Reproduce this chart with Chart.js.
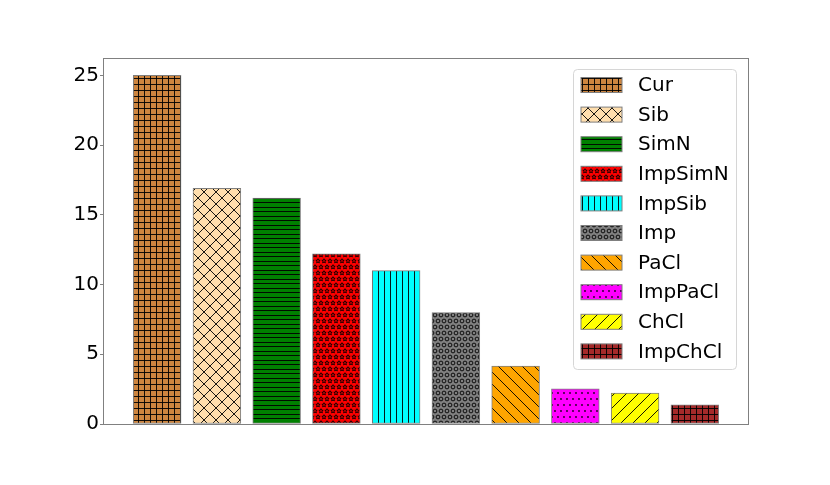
<!DOCTYPE html>
<html><head><meta charset="utf-8">
<script src="https://cdn.jsdelivr.net/npm/chart.js@4.4.0/dist/chart.umd.min.js"></script>
<style>html,body{margin:0;padding:0;background:#fff}canvas{display:block}</style>
</head><body>
<canvas id="c" width="830" height="485"></canvas>
<script>
// ---- data ----
const categories = ['Cur','Sib','SimN','ImpSimN','ImpSib','Imp','PaCl','ImpPaCl','ChCl','ImpChCl'];
const values = [25.0, 16.9, 16.2, 12.2, 11.0, 8.0, 4.15, 2.53, 2.22, 1.37];
const positions = [0, 1, 2, 3, 4, 5, 6, 7, 8, 9];
const yTicks = [0, 5, 10, 15, 20, 25];
const colors = ['#cd853f','#ffdead','#008000','#ff0000','#00ffff','#808080','#ffa500','#ff00ff','#ffff00','#a52a2a'];
const hatches = ['grid','x','hlines','stars','vlines','circles','back','dots','fwd','grid'];

// ---- hatch patterns ----
const mainCtx = document.getElementById('c').getContext('2d');
const HC = 'rgba(0,0,0,0.9)';
function mk(w, h, bg, draw) {
  const c = document.createElement('canvas');
  c.width = w; c.height = h;
  const g = c.getContext('2d');
  g.fillStyle = bg; g.fillRect(0, 0, w, h);
  g.strokeStyle = HC; g.fillStyle = HC; g.lineWidth = 1;
  draw(g, w, h);
  return mainCtx.createPattern(c, 'repeat');
}
function wrap(g, w, h, x, y, fn) {
  for (const dx of [-w, 0, w]) for (const dy of [-h, 0, h]) fn(g, x + dx, y + dy);
}
function star(g, x, y) {
  g.beginPath();
  for (let k = 0; k < 10; k++) {
    const r = k % 2 ? 1.0 : 2.3;
    const a = -Math.PI / 2 + k * Math.PI / 5;
    const px = x + r * Math.cos(a), py = y + r * Math.sin(a);
    k ? g.lineTo(px, py) : g.moveTo(px, py);
  }
  g.closePath(); g.stroke();
}
function ring(g, x, y) { g.beginPath(); g.arc(x, y, 1.9, 0, Math.PI * 2); g.stroke(); }
function dot(g, x, y) { g.beginPath(); g.arc(x, y, 0.9, 0, Math.PI * 2); g.fill(); }
function shapes(bg, P, fn) {
  return mk(P, 2 * P, bg, (g, w, h) => {
    wrap(g, w, h, P / 2, P / 2, fn);
    wrap(g, w, h, 0, 1.5 * P, fn);
  });
}
function makeHatch(kind, bg) {
  switch (kind) {
    case 'grid': return mk(6, 6, bg, g => { g.fillRect(0, 0, 6, 1); g.fillRect(0, 0, 1, 6); });
    case 'vlines': return mk(6, 6, bg, g => { g.fillRect(0, 0, 1, 6); });
    case 'hlines': return mk(9, 9, bg, g => { g.fillRect(0, 0, 9, 1); g.fillRect(0, 4, 9, 1); });
    case 'fwd': return mk(12, 12, bg, g => { for (let k = -1; k <= 1; k++) { g.beginPath(); g.moveTo(k*12 - 1, 13); g.lineTo(k*12 + 13, -1); g.stroke(); } });
    case 'back': return mk(12, 12, bg, g => { for (let k = -1; k <= 1; k++) { g.beginPath(); g.moveTo(k*12 - 1, -1); g.lineTo(k*12 + 13, 13); g.stroke(); } });
    case 'x': return mk(12, 12, bg, g => { for (let k = -1; k <= 1; k++) { g.beginPath(); g.moveTo(k*12 - 1, 13); g.lineTo(k*12 + 13, -1); g.moveTo(k*12 - 1, -1); g.lineTo(k*12 + 13, 13); g.stroke(); } });
    case 'stars': return shapes(bg, 6, star);
    case 'circles': return shapes(bg, 6, ring);
    case 'dots': return shapes(bg, 6, dot);
  }
}

const datasets = categories.map((name, i) => ({
  label: name,
  data: [{ x: positions[i], y: values[i] }],
  backgroundColor: makeHatch(hatches[i], colors[i]),
  borderColor: '#7f7f7f',
  borderWidth: 1,
  borderSkipped: false
}));

// ---- frame + legend ----
const framePlugin = {
  id: 'frame',
  afterDatasetsDraw(chart) {
    const { ctx, chartArea: a } = chart;
    ctx.save();
    ctx.strokeStyle = '#808080'; ctx.lineWidth = 1;
    ctx.strokeRect(a.left - 0.5, a.top + 0.5, a.right - a.left + 1, a.bottom - a.top);
    ctx.restore();
  }
};
const legendPlugin = {
  id: 'mplLegend',
  afterDraw(chart) {
    const { ctx } = chart;
    ctx.save();
    const bx = 573.5, by = 69.5, bw = 163, bh = 300, r = 4;
    ctx.beginPath();
    ctx.moveTo(bx + r, by); ctx.lineTo(bx + bw - r, by); ctx.arcTo(bx + bw, by, bx + bw, by + r, r);
    ctx.lineTo(bx + bw, by + bh - r); ctx.arcTo(bx + bw, by + bh, bx + bw - r, by + bh, r);
    ctx.lineTo(bx + r, by + bh); ctx.arcTo(bx, by + bh, bx, by + bh - r, r);
    ctx.lineTo(bx, by + r); ctx.arcTo(bx, by, bx + r, by, r); ctx.closePath();
    ctx.fillStyle = 'rgba(255,255,255,0.8)'; ctx.fill();
    ctx.strokeStyle = '#d6d6d6'; ctx.stroke();
    ctx.font = '20px "DejaVu Sans"';
    ctx.textBaseline = 'middle';
    chart.data.datasets.forEach((ds, i) => {
      const y = 85 + 29.6 * i;
      ctx.fillStyle = ds.backgroundColor;
      ctx.fillRect(581, y - 7.5, 41, 15);
      ctx.strokeStyle = ds.borderColor; ctx.lineWidth = 1;
      ctx.strokeRect(581, y - 7.5, 41, 15);
      ctx.fillStyle = '#000';
      ctx.fillText(ds.label, 638, y + 1);
    });
    ctx.restore();
  }
};

new Chart(mainCtx, {
  type: 'bar',
  data: { datasets },
  plugins: [framePlugin, legendPlugin],
  options: {
    responsive: false,
    animation: false,
    events: [],
    grouped: false,
    barPercentage: 1,
    categoryPercentage: 1,
    maxBarThickness: 47.8,
    layout: { padding: { left: 0, top: 58, right: 82, bottom: 61 } },
    plugins: { legend: { display: false }, tooltip: { enabled: false } },
    scales: {
      x: {
        type: 'linear', display: false, offset: false, min: -0.89, max: 9.89,
        grid: { offset: false },
        ticks: { stepSize: 1, includeBounds: false }
      },
      y: {
        min: 0, max: 26.25,
        afterFit(s) { s.width = 104; },
        afterBuildTicks(s) { s.ticks = yTicks.map(v => ({ value: v })); },
        border: { display: false },
        grid: { drawOnChartArea: false, drawTicks: true, tickLength: 4, color: '#808080' },
        ticks: { padding: 1, color: '#000', font: { family: 'DejaVu Sans', size: 20 } }
      }
    }
  }
});
</script>
</body></html>
